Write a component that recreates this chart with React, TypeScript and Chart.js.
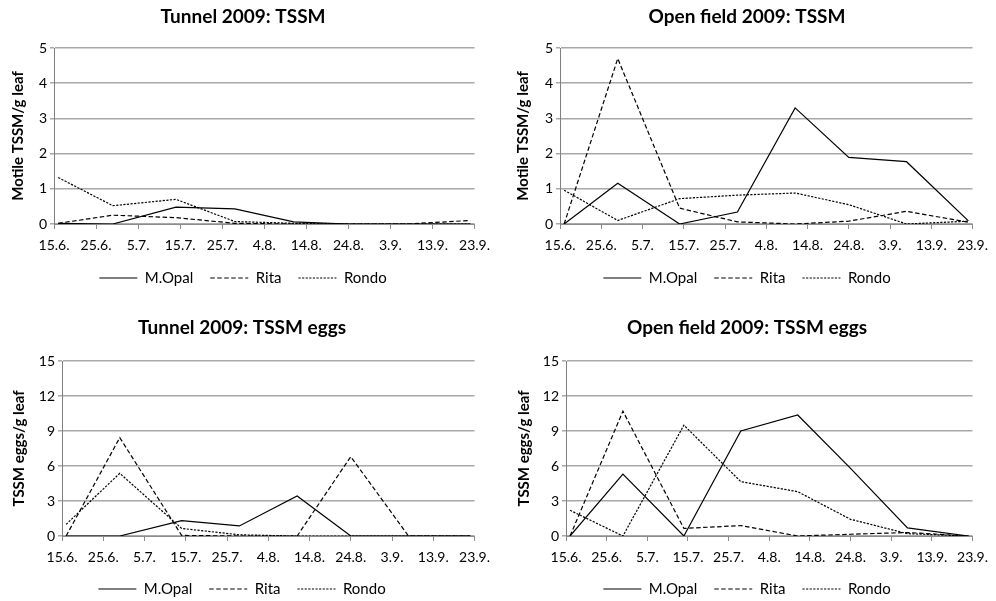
import React, { useEffect, useRef } from 'react';
import { Chart, registerables } from 'chart.js';

Chart.register(...registerables);

// ---- data ----
const xTickLabels = ['15.6.', '25.6.', '5.7.', '15.7.', '25.7.', '4.8.', '14.8.', '24.8.', '3.9.', '13.9.', '23.9.'];
// sampling dates, as days after 15.6.
const sampleDays = [1, 14, 29, 43, 57, 70, 84, 99];
const seriesNames = ['M.Opal', 'Rita', 'Rondo'];

const tunnelTssmOpal = [0.02, 0, 0.48, 0.43, 0.06, 0, 0, 0];
const tunnelTssmRita = [0.02, 0.25, 0.18, 0.02, 0, 0, 0, 0.1];
const tunnelTssmRondo = [1.32, 0.52, 0.7, 0.07, 0.02, 0, 0, 0];

const openTssmOpal = [0, 1.16, 0, 0.34, 3.3, 1.89, 1.77, 0.09];
const openTssmRita = [0, 4.7, 0.45, 0.06, 0, 0.08, 0.36, 0.05];
const openTssmRondo = [0.96, 0.1, 0.72, 0.82, 0.88, 0.55, 0, 0.08];

const tunnelEggsOpal = [0, 0, 1.31, 0.86, 3.43, 0, 0, 0];
const tunnelEggsRita = [0, 8.43, 0.05, 0, 0, 6.8, 0, 0];
const tunnelEggsRondo = [1.0, 5.37, 0.65, 0.1, 0, 0, 0, 0];

const openEggsOpal = [0, 5.31, 0, 9.0, 10.37, 5.8, 0.69, 0];
const openEggsRita = [0, 10.7, 0.65, 0.89, 0, 0.15, 0.3, 0];
const openEggsRondo = [2.2, 0, 9.5, 4.66, 3.8, 1.43, 0.2, 0];

const titles = ['Tunnel 2009: TSSM', 'Open field 2009: TSSM', 'Tunnel 2009: TSSM eggs', 'Open field 2009: TSSM eggs'];
const yTitles = ['Motile TSSM/g leaf', 'Motile TSSM/g leaf', 'TSSM eggs/g leaf', 'TSSM eggs/g leaf'];
const yMaxes = [5, 5, 15, 15];
const ySteps = [1, 1, 3, 3];

// ---- styles / layout ----
const FONT = 'Lato, "DejaVu Sans", sans-serif';
const dashes = [[], [4.5, 2.5], [2.2, 1.4]];

const layouts = [
  { left: 0, top: 0, h: 300, yW: 54, padR: 12, dummyR: 9, tTop: 5.6, tBot: 19.6, xH: 29.5, padB: 4.5, yTitlePad: 9 },
  { left: 498, top: 0, h: 300, yW: 62, padR: 0, dummyR: 15, tTop: 5.6, tBot: 19.6, xH: 29.5, padB: 4.5, yTitlePad: 16 },
  { left: 0, top: 294, h: 313, yW: 62, padR: 14, dummyR: 7, tTop: 22.6, tBot: 21.6, xH: 28.5, padB: 0.5, yTitlePad: 10 },
  { left: 498, top: 294, h: 313, yW: 68, padR: 0, dummyR: 14, tTop: 22.6, tBot: 21.6, xH: 28.5, padB: 0.5, yTitlePad: 17 },
];

const panelSeries = [
  [tunnelTssmOpal, tunnelTssmRita, tunnelTssmRondo],
  [openTssmOpal, openTssmRita, openTssmRondo],
  [tunnelEggsOpal, tunnelEggsRita, tunnelEggsRondo],
  [openEggsOpal, openEggsRita, openEggsRondo],
];

function Panel({ idx }: { idx: number }) {
  const ref = useRef<HTMLCanvasElement | null>(null);
  const L = layouts[idx];
  useEffect(() => {
    if (!ref.current) return;
    const datasets = panelSeries[idx].map((vals, s) => ({
      label: seriesNames[s],
      data: vals.map((v, i) => ({ x: sampleDays[i], y: v })),
      borderColor: '#000',
      backgroundColor: '#000',
      borderWidth: 1.2,
      borderDash: dashes[s],
      pointRadius: 0,
      pointHoverRadius: 0,
      tension: 0,
      fill: false,
    }));
    const chart = new Chart(ref.current, {
      type: 'line',
      data: { datasets },
      options: {
        responsive: false,
        animation: false,
        events: [],
        layout: { padding: { left: 0, right: L.padR, top: 0, bottom: L.padB } },
        plugins: {
          tooltip: { enabled: false },
          title: {
            display: true,
            text: titles[idx],
            color: '#000',
            font: { family: FONT, size: 19, weight: 'bold' },
            padding: { top: L.tTop, bottom: L.tBot },
          },
          legend: {
            display: true,
            position: 'bottom',
            labels: {
              usePointStyle: true,
              pointStyle: 'line',
              pointStyleWidth: 38,
              padding: 17,
              color: '#000',
              font: { family: FONT, size: 15 },
              generateLabels: (ch: any) =>
                ch.data.datasets.map((ds: any, i: number) => ({
                  text: ds.label,
                  fillStyle: '#000',
                  strokeStyle: ds.borderColor,
                  lineWidth: ds.borderWidth,
                  lineDash: ds.borderDash,
                  lineCap: 'butt',
                  pointStyle: 'line',
                  fontColor: '#000',
                  hidden: false,
                  datasetIndex: i,
                })),
            },
          },
        },
        scales: {
          x: {
            type: 'linear',
            min: 0,
            max: 100,
            afterFit: (s: any) => { s.height = L.xH; },
            ticks: {
              stepSize: 10,
              autoSkip: false,
              maxRotation: 0,
              padding: 8,
              color: '#000',
              font: { family: FONT, size: 14 },
              callback: (v: any) => xTickLabels[Math.round(Number(v) / 10)] ?? '',
            },
            grid: { drawOnChartArea: false, drawTicks: true, tickLength: 5, color: '#8c8c8c', lineWidth: 1 },
            border: { display: true, color: '#8c8c8c', width: 1 },
          },
          y: {
            type: 'linear',
            min: 0,
            max: yMaxes[idx],
            afterFit: (s: any) => { s.width = L.yW; },
            ticks: {
              stepSize: ySteps[idx],
              padding: 3,
              color: '#000',
              font: { family: FONT, size: 14 },
            },
            grid: { color: '#a8a8a8', lineWidth: 1.5, tickLength: 4, drawTicks: true },
            border: { display: true, color: '#7f7f7f', width: 1 },
            title: {
              display: true,
              text: yTitles[idx],
              color: '#000',
              font: { family: FONT, size: 15, weight: 'bold' },
              padding: { top: L.yTitlePad, bottom: 4 },
            },
          },
          yR: {
            type: 'linear',
            position: 'right',
            display: true,
            afterFit: (s: any) => { s.width = L.dummyR; },
            ticks: { display: false },
            grid: { display: false, drawTicks: false },
            border: { display: false },
          },
        },
      },
    } as any);
    return () => chart.destroy();
  }, [idx]);
  return (
    <canvas
      ref={ref}
      width={498}
      height={L.h}
      style={{ position: 'absolute', left: L.left, top: L.top, width: 498, height: L.h }}
    />
  );
}

export default function App() {
  return (
    <div style={{ position: 'fixed', left: 0, top: 0, width: 996, height: 601, overflow: 'hidden', background: '#fff' }}>
      {[0, 1, 2, 3].map((i) => (
        <Panel key={i} idx={i} />
      ))}
    </div>
  );
}
